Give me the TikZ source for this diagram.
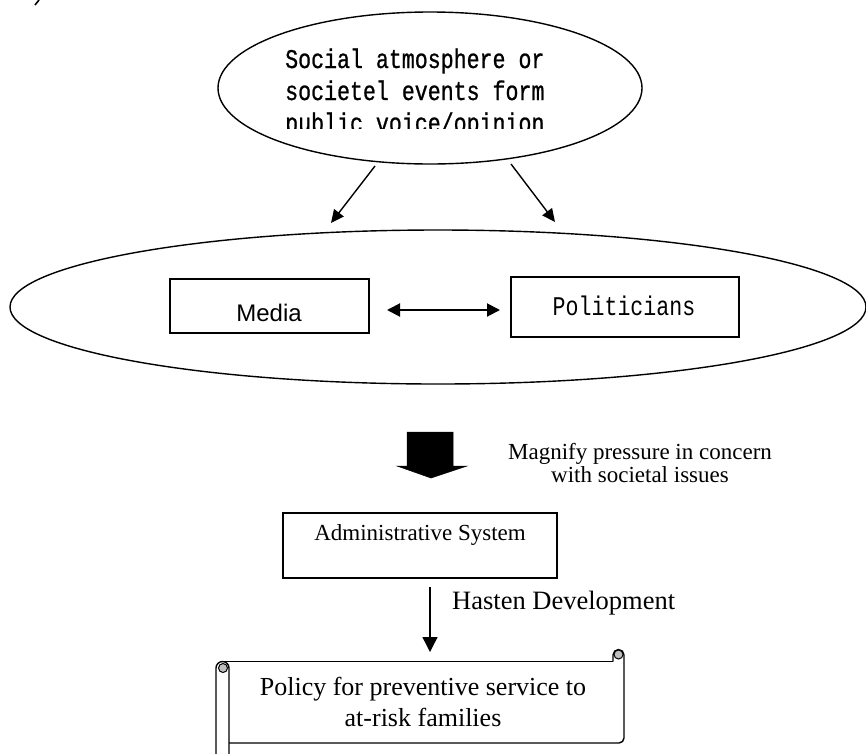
\documentclass[tikz,border=0pt]{standalone}
\usepackage{fontspec}
\setmainfont{Liberation Serif}
\newfontfamily\monof[FakeStretch=0.8]{Liberation Mono}
\newfontfamily\monobf[FakeStretch=0.8,FakeBold=0.8]{Liberation Mono}
\newfontfamily\sansf{Liberation Sans}
\usetikzlibrary{arrows.meta,shapes.geometric}
\begin{document}
\begin{tikzpicture}[x=1pt,y=-1pt,
  lw/.style={line width=1.4pt},
  conn/.style={line width=1.4pt,-{Triangle[length=13pt,width=12pt]}},
  dconn/.style={line width=2pt,{Triangle[length=13pt,width=13pt]}-{Triangle[length=13pt,width=13pt]}},
  ell/.style={draw,ellipse,line width=1.4pt,inner sep=0pt},
  rbox/.style={draw,rectangle,line width=1.6pt,inner sep=0pt},
  txt/.style={inner sep=0pt,align=center},
  soct/.style={inner sep=0pt,anchor=base west,font=\monobf\fontsize{27}{32}\selectfont}]
\useasboundingbox (0,0) rectangle (866,753);
% stray mark top-left
\draw[line width=1.6pt] (35,5) -- (39,0);
% top ellipse
\node[ell,minimum width=424pt,minimum height=152pt] (soc) at (430,88) {};
\begin{scope}
\clip (0,0) rectangle (866,128);
\node[soct] (s1) at (285,68) {Social atmosphere or};
\node[soct] (s2) at (285,100) {societel events form};
\node[soct] (s3) at (285,132) {public voice/opinion};
\end{scope}
% big ellipse
\node[ell,minimum width=856pt,minimum height=154pt] (big) at (438,307) {};
% boxes
\node[rbox,minimum width=199pt,minimum height=54pt] (media) at (269.5,306) {};
\node[txt,font=\sansf\fontsize{24}{28}\selectfont] (mediat) at (269,313) {Media};
\node[rbox,minimum width=228pt,minimum height=60pt] (polit) at (625,307) {};
\node[txt,font=\monof\fontsize{27}{30}\selectfont] (politt) at (624,306) {Politicians};
% arrows from top ellipse
\coordinate (a1s) at (375,166); \coordinate (a1e) at (331,223);
\coordinate (a2s) at (511,164); \coordinate (a2e) at (555,222);
\draw[conn] (a1s) -- (a1e);
\draw[conn] (a2s) -- (a2e);
% double arrow
\coordinate (d1) at (387,310); \coordinate (d2) at (500,310);
\draw[dconn] (d1) -- (d2);
% block arrow
\filldraw[line width=0.5pt] (407,432) -- (453,432) -- (453,466) -- (467,466) -- (431,478) -- (397,466) -- (407,466) -- cycle;
\node[txt,font=\fontsize{23}{23}\selectfont] (mag) at (640,463) {Magnify pressure in concern\\with societal issues};
% admin box
\node[rbox,minimum width=274pt,minimum height=65pt] (adm) at (420,545.5) {};
\node[txt,font=\fontsize{23}{27}\selectfont] (admt) at (420,535) {Administrative System};
% hasten arrow
\coordinate (h1) at (430,587); \coordinate (h2) at (430,652);
\draw[line width=1.4pt,-{Triangle[length=15pt,width=15pt]}] (h1) -- (h2);
\node[txt,anchor=west,font=\fontsize{26.5}{30}\selectfont] (hast) at (452,603) {Hasten Development};
% scroll
\draw[lw] (216,760) -- (216,668) arc[start angle=180,end angle=360,radius=6.5] -- (229,760);
\draw[lw] (222.5,661.5) -- (613,661.5);
\draw[lw] (613,661.5) -- (613,655) arc[start angle=180,end angle=360,radius=5.5] -- (624,655);
\draw[lw,rounded corners=5pt] (624,655) -- (624,743) -- (229,743);
\draw[line width=1pt,fill=gray!50] (223,668) circle (4.5);
\draw[line width=1pt,fill=gray!50] (618.5,654.5) circle (4.5);
\node[txt,font=\fontsize{26}{31}\selectfont] (policy) at (423,701.5) {Policy for preventive service to\\at-risk families};
\end{tikzpicture}
\end{document}
